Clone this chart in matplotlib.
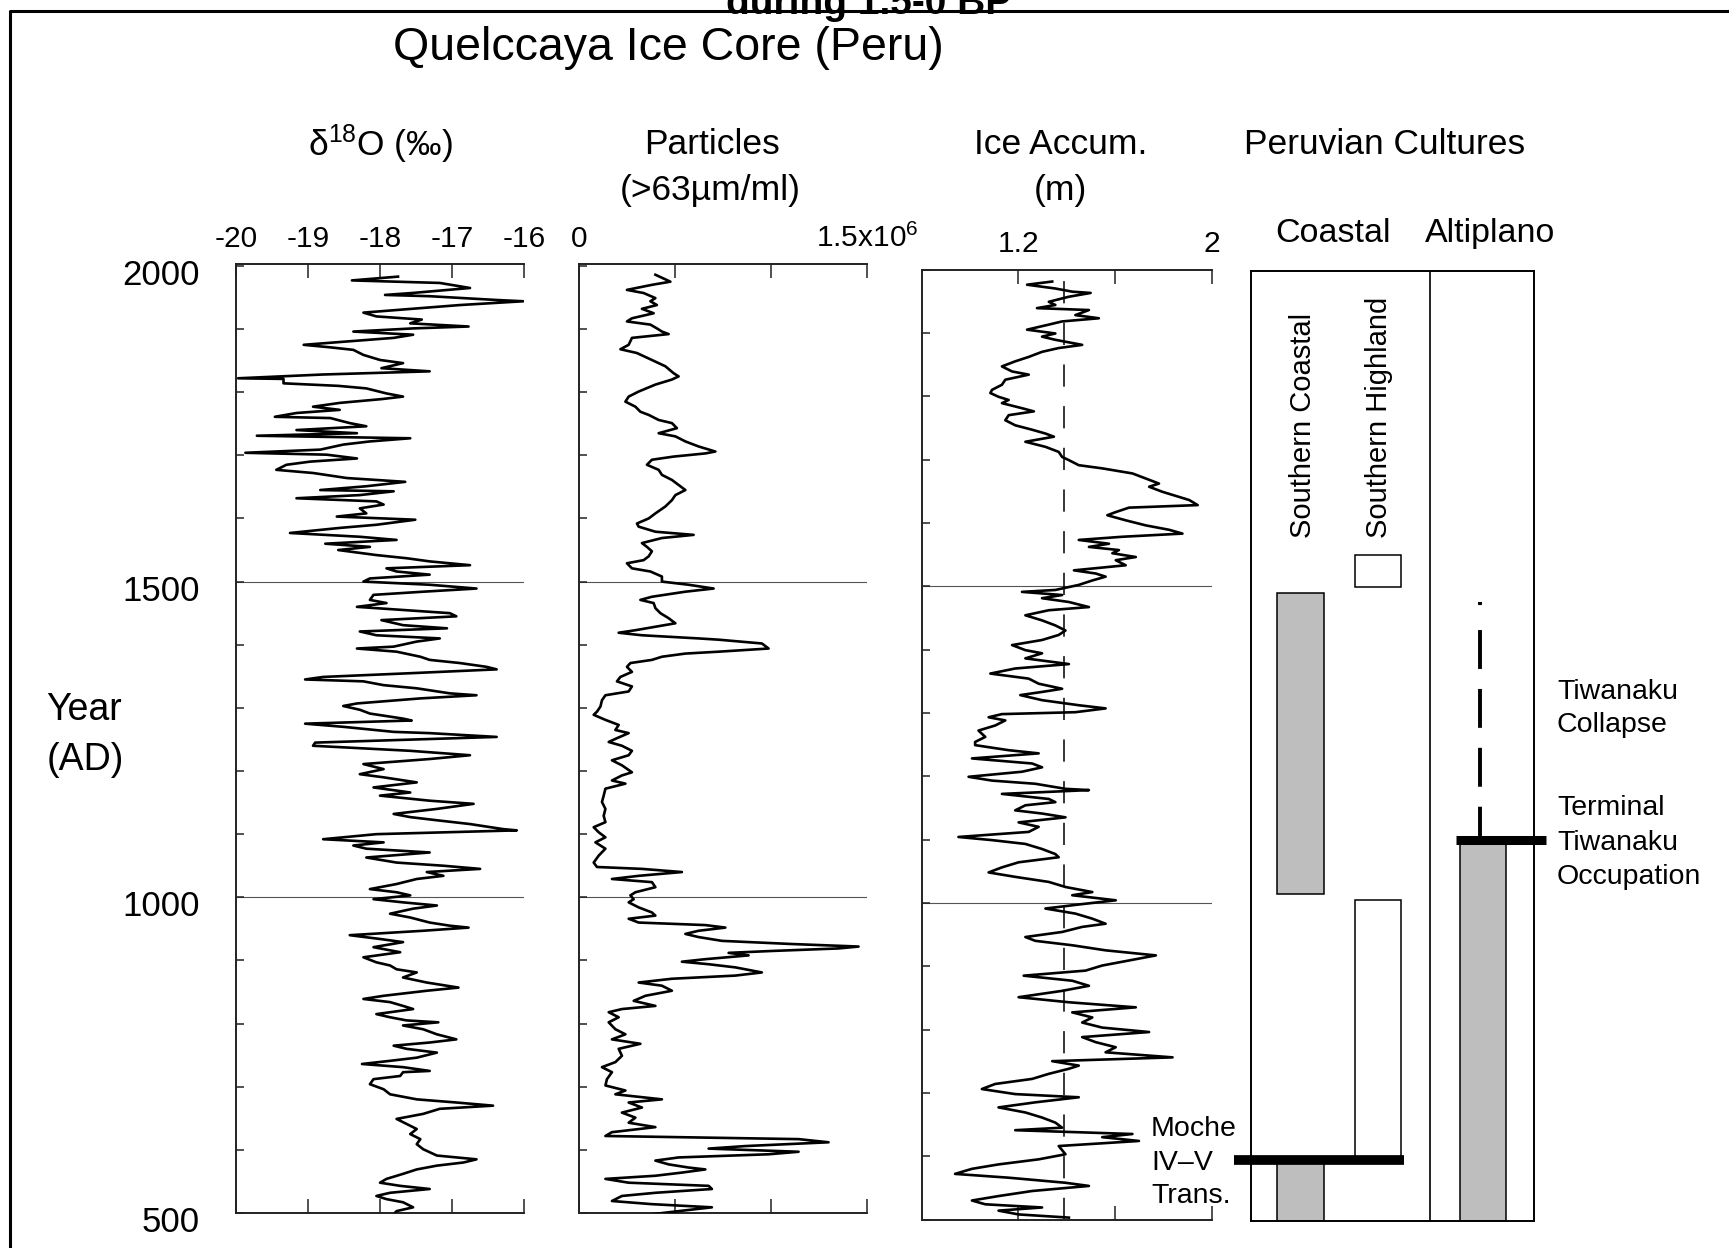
import numpy as np
import matplotlib
matplotlib.use("Agg")
import matplotlib.pyplot as plt
import matplotlib.transforms as mtransforms
from matplotlib.lines import Line2D

plt.rcParams['font.family'] = ['Liberation Sans', 'DejaVu Sans']
plt.rcParams['mathtext.fontset'] = 'custom'
plt.rcParams['mathtext.rm'] = 'Liberation Sans'
plt.rcParams['mathtext.it'] = 'Liberation Sans:italic'
plt.rcParams['mathtext.bf'] = 'Liberation Sans:bold'
plt.rcParams['lines.scale_dashes'] = False

# ---------------------------------------------------------------- data
# (year AD, value) pairs
d18o_record = [
    (1983, -17.75), (1977, -18.39), (1973, -17.17), (1965, -16.75), (1957, -17.56), (1954, -17.93),
    (1952, -17.31), (1946, -16.38), (1944, -16.01), (1938, -16.89), (1931, -17.68), (1926, -18.23),
    (1920, -18.05), (1915, -17.42), (1909, -17.58), (1904, -16.77), (1901, -17.54), (1896, -18.37),
    (1891, -17.54), (1886, -17.81), (1875, -19.06), (1871, -18.69), (1867, -18.37), (1859, -18.23),
    (1851, -18.00), (1846, -17.68), (1838, -17.98), (1833, -17.31), (1828, -18.79), (1822, -19.97),
    (1821, -19.34), (1814, -19.34), (1810, -18.58), (1806, -18.19), (1798, -17.91), (1793, -17.68),
    (1789, -17.98), (1783, -18.56), (1777, -18.93), (1772, -18.56), (1767, -19.16), (1761, -19.46),
    (1759, -18.69), (1751, -18.42), (1746, -18.19), (1740, -19.16), (1735, -18.32), (1731, -19.71),
    (1727, -17.58), (1722, -18.14), (1717, -18.51), (1709, -18.83), (1704, -19.87), (1701, -18.74),
    (1695, -18.32), (1690, -18.97), (1685, -19.30), (1677, -19.44), (1672, -18.93), (1664, -18.46),
    (1658, -17.65), (1651, -18.19), (1645, -18.83), (1643, -17.81), (1637, -18.28), (1632, -19.16),
    (1627, -18.05), (1622, -17.95), (1616, -18.28), (1608, -18.19), (1603, -18.60), (1598, -17.51),
    (1590, -18.05), (1585, -18.56), (1577, -19.25), (1571, -18.28), (1566, -17.77), (1560, -18.76),
    (1555, -18.14), (1550, -18.58), (1542, -18.05), (1537, -17.63), (1532, -17.31), (1526, -16.75),
    (1521, -17.91), (1516, -17.77), (1511, -17.31), (1505, -18.14), (1500, -18.23), (1495, -17.31),
    (1489, -16.66), (1484, -17.40), (1479, -18.09), (1471, -18.14), (1466, -17.91), (1460, -18.32),
    (1455, -17.68), (1450, -17.03), (1445, -16.94), (1439, -17.98), (1431, -17.68), (1426, -17.07),
    (1421, -18.28), (1415, -18.05), (1410, -17.17), (1405, -17.49), (1397, -17.81), (1394, -18.32),
    (1389, -17.77), (1381, -17.44), (1376, -17.31), (1371, -16.89), (1365, -16.52), (1361, -16.38),
    (1355, -17.56), (1349, -18.79), (1345, -19.04), (1342, -18.23), (1336, -17.95), (1331, -17.49),
    (1323, -17.03), (1320, -16.66), (1315, -17.44), (1307, -18.32), (1303, -18.51), (1297, -18.28),
    (1291, -18.14), (1283, -17.68), (1280, -17.56), (1275, -19.04), (1270, -18.51), (1262, -17.81),
    (1260, -17.31), (1254, -16.38), (1249, -17.77), (1245, -18.90), (1240, -18.93), (1232, -17.58),
    (1225, -16.75), (1219, -17.31), (1211, -18.23), (1203, -17.95), (1195, -18.28), (1190, -17.95),
    (1182, -17.49), (1174, -18.09), (1166, -17.58), (1161, -18.00), (1153, -17.31), (1148, -16.70),
    (1140, -17.21), (1132, -17.81), (1127, -17.58), (1122, -17.21), (1116, -16.75), (1108, -16.29),
    (1106, -16.10), (1100, -18.05), (1092, -18.79), (1087, -17.95), (1082, -18.37), (1077, -18.19),
    (1071, -17.31), (1063, -18.19), (1055, -17.77), (1050, -17.12), (1045, -16.61), (1040, -17.35),
    (1034, -17.12), (1029, -17.49), (1021, -17.77), (1013, -18.14), (1008, -17.77), (1003, -17.58),
    (997, -18.09), (992, -17.68), (987, -17.21), (982, -17.54), (974, -17.86), (968, -17.58),
    (960, -17.31), (955, -17.03), (952, -16.77), (947, -17.40), (940, -18.42), (934, -18.00),
    (929, -17.68), (921, -18.09), (913, -17.72), (905, -18.23), (897, -18.05), (892, -17.86),
    (886, -17.77), (881, -17.49), (873, -17.68), (865, -17.35), (857, -16.91), (852, -17.35),
    (844, -17.95), (839, -18.23), (834, -17.86), (828, -17.68), (823, -17.54), (815, -18.05),
    (810, -17.86), (805, -17.63), (802, -17.19), (797, -17.68), (791, -17.40), (783, -17.21),
    (775, -16.94), (770, -17.31), (765, -17.81), (760, -17.63), (754, -17.21), (746, -17.49),
    (741, -17.86), (736, -18.25), (731, -17.68), (725, -17.31), (723, -17.68), (717, -17.72),
    (712, -18.09), (704, -18.14), (696, -17.95), (688, -17.86), (680, -17.49), (675, -16.94),
    (670, -16.43), (665, -17.17), (657, -17.40), (649, -17.77), (641, -17.63), (633, -17.49),
    (625, -17.58), (617, -17.44), (609, -17.49), (601, -17.40), (591, -17.21), (585, -16.66),
    (580, -16.84), (575, -17.21), (569, -17.49), (562, -17.68), (554, -17.91), (548, -18.00),
    (543, -17.72), (538, -17.31), (532, -17.86), (527, -18.05), (522, -17.91), (517, -17.68),
    (509, -17.54), (503, -17.77), (498, -17.81),
]

# particles (>63 um per ml), in units of 10^6
particles_record = [
    (1986, 0.399), (1975, 0.477), (1970, 0.381), (1962, 0.251), (1957, 0.338), (1949, 0.399),
    (1944, 0.373), (1938, 0.407), (1932, 0.329), (1925, 0.390), (1917, 0.277), (1912, 0.251),
    (1907, 0.373), (1901, 0.407), (1896, 0.433), (1892, 0.468), (1886, 0.277), (1875, 0.260),
    (1868, 0.217), (1862, 0.303), (1851, 0.381), (1841, 0.451), (1830, 0.494), (1825, 0.520),
    (1820, 0.485), (1812, 0.399), (1801, 0.312), (1793, 0.260), (1785, 0.243), (1777, 0.295),
    (1769, 0.321), (1764, 0.364), (1756, 0.416), (1751, 0.485), (1743, 0.511), (1735, 0.416),
    (1730, 0.503), (1722, 0.555), (1714, 0.624), (1706, 0.711), (1703, 0.659), (1698, 0.494),
    (1693, 0.381), (1685, 0.355), (1677, 0.416), (1669, 0.433), (1661, 0.485), (1653, 0.520),
    (1645, 0.555), (1637, 0.503), (1629, 0.485), (1619, 0.451), (1608, 0.399), (1600, 0.364),
    (1592, 0.303), (1587, 0.312), (1579, 0.399), (1574, 0.598), (1569, 0.433), (1561, 0.329),
    (1555, 0.355), (1548, 0.381), (1540, 0.364), (1534, 0.338), (1529, 0.251), (1521, 0.277),
    (1516, 0.373), (1508, 0.433), (1500, 0.433), (1495, 0.572), (1489, 0.702), (1484, 0.555),
    (1476, 0.381), (1471, 0.321), (1466, 0.390), (1458, 0.399), (1450, 0.425), (1442, 0.468),
    (1434, 0.503), (1429, 0.407), (1423, 0.295), (1419, 0.208), (1415, 0.329), (1410, 0.624),
    (1408, 0.728), (1402, 0.953), (1394, 0.988), (1389, 0.728), (1386, 0.555), (1381, 0.433),
    (1376, 0.381), (1371, 0.269), (1365, 0.251), (1357, 0.277), (1349, 0.217), (1342, 0.199),
    (1334, 0.277), (1326, 0.260), (1320, 0.139), (1312, 0.121), (1302, 0.113), (1294, 0.095),
    (1289, 0.078), (1281, 0.139), (1273, 0.208), (1265, 0.191), (1260, 0.260), (1252, 0.199),
    (1246, 0.156), (1240, 0.225), (1232, 0.277), (1225, 0.260), (1217, 0.173), (1209, 0.225),
    (1198, 0.277), (1193, 0.225), (1185, 0.173), (1180, 0.243), (1172, 0.139), (1161, 0.130),
    (1151, 0.121), (1140, 0.139), (1129, 0.130), (1119, 0.139), (1111, 0.078), (1103, 0.104),
    (1095, 0.139), (1087, 0.087), (1077, 0.139), (1066, 0.104), (1055, 0.078), (1048, 0.095),
    (1045, 0.329), (1040, 0.537), (1034, 0.312), (1029, 0.173), (1024, 0.381), (1016, 0.399),
    (1008, 0.295), (1003, 0.269), (997, 0.286), (992, 0.260), (984, 0.312), (976, 0.381),
    (971, 0.399), (966, 0.260), (960, 0.312), (956, 0.659), (952, 0.763), (947, 0.624),
    (942, 0.555), (937, 0.624), (931, 0.745), (926, 1.109), (922, 1.456), (919, 1.352),
    (915, 1.005), (912, 0.780), (908, 0.884), (902, 0.659), (898, 0.537), (894, 0.676),
    (889, 0.815), (881, 0.953), (876, 0.815), (871, 0.485), (865, 0.312), (860, 0.433),
    (852, 0.485), (844, 0.347), (836, 0.286), (828, 0.399), (823, 0.225), (818, 0.156),
    (810, 0.208), (802, 0.156), (791, 0.191), (783, 0.243), (775, 0.173), (768, 0.321),
    (760, 0.208), (749, 0.225), (739, 0.191), (731, 0.121), (723, 0.173), (712, 0.147),
    (702, 0.139), (694, 0.243), (688, 0.191), (680, 0.433), (675, 0.260), (667, 0.329),
    (659, 0.225), (651, 0.295), (643, 0.260), (636, 0.399), (628, 0.173), (622, 0.139),
    (617, 1.144), (612, 1.300), (606, 0.867), (602, 0.676), (597, 1.144), (593, 0.988),
    (588, 0.520), (583, 0.399), (577, 0.468), (572, 0.572), (569, 0.659), (564, 0.537),
    (559, 0.399), (554, 0.139), (548, 0.260), (543, 0.676), (538, 0.693), (532, 0.399),
    (527, 0.225), (519, 0.173), (514, 0.381), (509, 0.693), (503, 0.520), (498, 0.381),
]

# ice accumulation (m)
accum_record = [
    (1981, 1.340), (1976, 1.236), (1970, 1.353), (1965, 1.423), (1963, 1.499), (1957, 1.409),
    (1949, 1.326), (1944, 1.353), (1939, 1.277), (1936, 1.492), (1928, 1.436), (1923, 1.533),
    (1918, 1.381), (1913, 1.326), (1905, 1.236), (1899, 1.353), (1894, 1.298), (1889, 1.353),
    (1881, 1.464), (1876, 1.367), (1870, 1.298), (1862, 1.243), (1855, 1.187), (1847, 1.132),
    (1839, 1.174), (1834, 1.243), (1826, 1.146), (1818, 1.132), (1810, 1.091), (1805, 1.084),
    (1799, 1.118), (1794, 1.160), (1789, 1.132), (1781, 1.215), (1776, 1.264), (1770, 1.160),
    (1762, 1.146), (1754, 1.187), (1747, 1.257), (1741, 1.312), (1736, 1.347), (1728, 1.229),
    (1720, 1.312), (1712, 1.367), (1704, 1.381), (1699, 1.409), (1691, 1.450), (1686, 1.547),
    (1678, 1.672), (1670, 1.727), (1662, 1.782), (1657, 1.741), (1649, 1.796), (1641, 1.865),
    (1636, 1.907), (1628, 1.942), (1624, 1.658), (1617, 1.603), (1612, 1.568), (1604, 1.644),
    (1596, 1.727), (1589, 1.824), (1583, 1.879), (1578, 1.630), (1573, 1.450), (1567, 1.575),
    (1562, 1.492), (1557, 1.616), (1552, 1.589), (1546, 1.686), (1541, 1.603), (1533, 1.644),
    (1525, 1.430), (1520, 1.520), (1515, 1.561), (1509, 1.506), (1502, 1.450), (1494, 1.353),
    (1491, 1.215), (1486, 1.381), (1481, 1.298), (1475, 1.409), (1467, 1.492), (1462, 1.326),
    (1454, 1.229), (1446, 1.298), (1438, 1.353), (1430, 1.395), (1423, 1.367), (1415, 1.298),
    (1407, 1.174), (1399, 1.229), (1394, 1.298), (1386, 1.229), (1377, 1.409), (1370, 1.187),
    (1362, 1.084), (1354, 1.243), (1346, 1.284), (1338, 1.381), (1333, 1.298), (1328, 1.208),
    (1320, 1.298), (1312, 1.450), (1307, 1.561), (1301, 1.436), (1298, 1.132), (1293, 1.077),
    (1288, 1.146), (1280, 1.104), (1272, 1.035), (1262, 1.063), (1254, 1.021), (1249, 1.021),
    (1241, 1.160), (1236, 1.284), (1228, 1.008), (1220, 1.257), (1214, 1.298), (1207, 1.215),
    (1199, 0.994), (1193, 1.091), (1188, 1.270), (1180, 1.395), (1178, 1.492), (1172, 1.132),
    (1164, 1.326), (1159, 1.353), (1154, 1.229), (1146, 1.187), (1141, 1.298), (1135, 1.395),
    (1127, 1.201), (1120, 1.284), (1112, 1.243), (1104, 0.952), (1099, 1.091), (1093, 1.229),
    (1085, 1.298), (1077, 1.353), (1072, 1.367), (1064, 1.201), (1056, 1.132), (1048, 1.077),
    (1041, 1.187), (1033, 1.326), (1025, 1.395), (1017, 1.506), (1012, 1.423), (1004, 1.603),
    (998, 1.464), (991, 1.312), (983, 1.436), (975, 1.506), (967, 1.561), (962, 1.464),
    (954, 1.381), (946, 1.229), (940, 1.270), (933, 1.423), (925, 1.561), (917, 1.769),
    (909, 1.658), (901, 1.547), (893, 1.478), (885, 1.222), (877, 1.423), (869, 1.492),
    (861, 1.381), (851, 1.201), (843, 1.409), (835, 1.686), (827, 1.423), (819, 1.506),
    (811, 1.464), (803, 1.547), (796, 1.741), (788, 1.464), (780, 1.520), (772, 1.603),
    (764, 1.561), (756, 1.838), (750, 1.340), (743, 1.450), (738, 1.409), (730, 1.326),
    (722, 1.257), (714, 1.104), (706, 1.049), (698, 1.187), (693, 1.450), (685, 1.270),
    (677, 1.118), (669, 1.229), (661, 1.298), (653, 1.353), (645, 1.381), (641, 1.187),
    (635, 1.672), (630, 1.547), (624, 1.699), (616, 1.367), (603, 1.395), (595, 1.284),
    (587, 1.118), (580, 1.008), (572, 0.938), (566, 1.160), (558, 1.395), (553, 1.492),
    (545, 1.257), (537, 1.118), (530, 1.008), (524, 1.063), (519, 1.298), (514, 1.118),
    (508, 1.201), (503, 1.409),
]
accum_mean = 1.39

d18o_ticks = [-20, -19, -18, -17, -16]
d18o_ticklabels = ['-20', '-19', '-18', '-17', '-16']
particle_ticks = [0, 0.5, 1.0, 1.5]
particle_ticklabels = ['0', '', '', '1.5x10$^{6}$']
accum_ticks = [1.2, 1.6, 2.0]
accum_ticklabels = ['1.2', '', '2']
year_ticks = list(range(500, 2001, 100))

# culture periods (start, end) in years AD
southern_coastal = [(1015, 1490), (500, 595)]
southern_highland = [(1500, 1550), (595, 1005)]
altiplano = [(500, 1100)]
moche_transition = 595
tiwanaku_terminal = 1100
tiwanaku_collapse = 1476

# ---------------------------------------------------------------- layout
W, H = 1729, 1248
fig = plt.figure(figsize=(W / 100, H / 100), dpi=100)
fig.patch.set_facecolor('white')


def rect(left, top, right, bottom):
    return [left / W, 1 - bottom / H, (right - left) / W, (bottom - top) / H]


def ftext(x, y, s, **kw):
    kw.setdefault('va', 'baseline')
    return fig.text(x / W, 1 - y / H, s, **kw)


# outer frame of the scanned figure
fig.add_artist(Line2D([10 / W, 10 / W, 1], [0, 1 - 11 / H, 1 - 11 / H],
                      transform=fig.transFigure, color='k', lw=2.2))

ax1 = fig.add_axes(rect(236, 264, 524, 1213))
ax2 = fig.add_axes(rect(578.7, 264, 867, 1213))
ax3 = fig.add_axes(rect(921.7, 269.5, 1211.7, 1219.5))
ax4 = fig.add_axes(rect(1250.5, 271, 1533.5, 1220.5))

cores = [
    (ax1, d18o_record, (-20, -16), d18o_ticks, d18o_ticklabels, (500, 2003)),
    (ax2, particles_record, (0, 1.5), particle_ticks, particle_ticklabels, (500, 2003)),
    (ax3, accum_record, (0.8, 2.0), accum_ticks, accum_ticklabels, (500, 2000)),
]
for ax, record, xlim, ticks, labels, ylim in cores:
    yr, val = np.array(record).T
    ax.plot(val, yr, color='k', lw=1.9, zorder=3)
    for y in (1000, 1500):
        ax.axhline(y, color='#555555', lw=0.8, zorder=1)
    ax.set_xlim(xlim)
    ax.set_ylim(ylim)
    ax.spines['right'].set_visible(False)
    for s in ax.spines.values():
        s.set_linewidth(1.4)
        s.set_color('#222222')
    ax.set_xticks(ticks)
    ax.set_xticklabels(labels)
    ax.tick_params(axis='x', direction='in', top=True, bottom=True, labeltop=True,
                   labelbottom=False, length=10, width=1.1, pad=8, labelsize=21.5,
                   color='#222222')
    ax.set_yticks(year_ticks)
    ax.tick_params(axis='y', direction='in', left=True, right=False, length=6,
                   width=1.1, labelleft=False, color='#222222')

ax1.set_yticklabels([str(y) if y % 500 == 0 else '' for y in year_ticks])
ax1.tick_params(axis='y', labelleft=True, pad=26, labelsize=25)
shift = mtransforms.ScaledTranslation(0, -6 / 100, fig.dpi_scale_trans)
for lbl in ax1.get_yticklabels():
    lbl.set_transform(lbl.get_transform() + shift)

ax3.axvline(accum_mean, color='k', lw=1.1, ls=(0, (16, 14)), zorder=2)

# Peruvian cultures panel
gray = '#bebebe'
ax4.set_xlim(0, 1)
ax4.set_ylim(500, 1998)
ax4.set_xticks([])
ax4.set_yticks([])
for s in ax4.spines.values():
    s.set_linewidth(1.4)
ax4.axvline(0.633, color='k', lw=1.2)
for lo, hi in southern_coastal:
    ax4.bar(0.176, hi - lo, bottom=lo, width=0.166, color=gray, edgecolor='k', lw=1.1)
for lo, hi in southern_highland:
    ax4.bar(0.4495, hi - lo, bottom=lo, width=0.163, color='white', edgecolor='k', lw=1.1)
for lo, hi in altiplano:
    ax4.bar(0.822, hi - lo, bottom=lo, width=0.164, color=gray, edgecolor='k', lw=1.1)
ax4.plot([-0.06, 0.541], [moche_transition] * 2, color='k', lw=7,
         solid_capstyle='butt', clip_on=False, zorder=4)
ax4.plot([0.725, 1.044], [tiwanaku_terminal] * 2, color='k', lw=6.5,
         solid_capstyle='butt', clip_on=False, zorder=4)
ax4.plot([0.812, 0.812], [tiwanaku_collapse, tiwanaku_terminal], color='k', lw=2.8,
         ls=(0, (2.2, 18, 28, 14.4, 28, 14.4, 28, 14.4, 28, 14.4)), zorder=4)

# ---------------------------------------------------------------- text
ftext(869, 14, 'during 1.5-0 BP', ha='center', fontsize=28, fontweight='bold')
ftext(668, 60, 'Quelccaya Ice Core (Peru)', ha='center', fontsize=33.5)
ftext(380.5, 156, 'δ$^{18}$O (‰)', ha='center', fontsize=25.5)
ftext(712, 154, 'Particles', ha='center', fontsize=25.5)
ftext(710, 200, '(>63µm/ml)', ha='center', fontsize=25.5)
ftext(1061, 154, 'Ice Accum.', ha='center', fontsize=25.5)
ftext(1060, 200, '(m)', ha='center', fontsize=25.5)
ftext(1385, 154, 'Peruvian Cultures', ha='center', fontsize=25.5)
ftext(1333, 242, 'Coastal', ha='center', fontsize=24.5)
ftext(1490, 242, 'Altiplano', ha='center', fontsize=24.5)
ftext(46.5, 719.5, 'Year', ha='left', fontsize=27)
ftext(46.5, 770, '(AD)', ha='left', fontsize=27)

ftext(1303, 538, 'Southern Coastal', rotation=90, ha='center', va='bottom', fontsize=21)
ftext(1379, 538, 'Southern Highland', rotation=90, ha='center', va='bottom', fontsize=21)


def note(x, baselines, lines):
    for yb, t in zip(baselines, lines):
        ftext(x, yb, t, ha='left', fontsize=20.5)


note(1557, [699, 732.5], ['Tiwanaku', 'Collapse'])
note(1557, [815, 849.5, 884], ['Terminal', 'Tiwanaku', 'Occupation'])
note(1151, [1136, 1170, 1203], ['Moche', 'IV–V', 'Trans.'])

fig.savefig('out.png', dpi=100, facecolor='white')
